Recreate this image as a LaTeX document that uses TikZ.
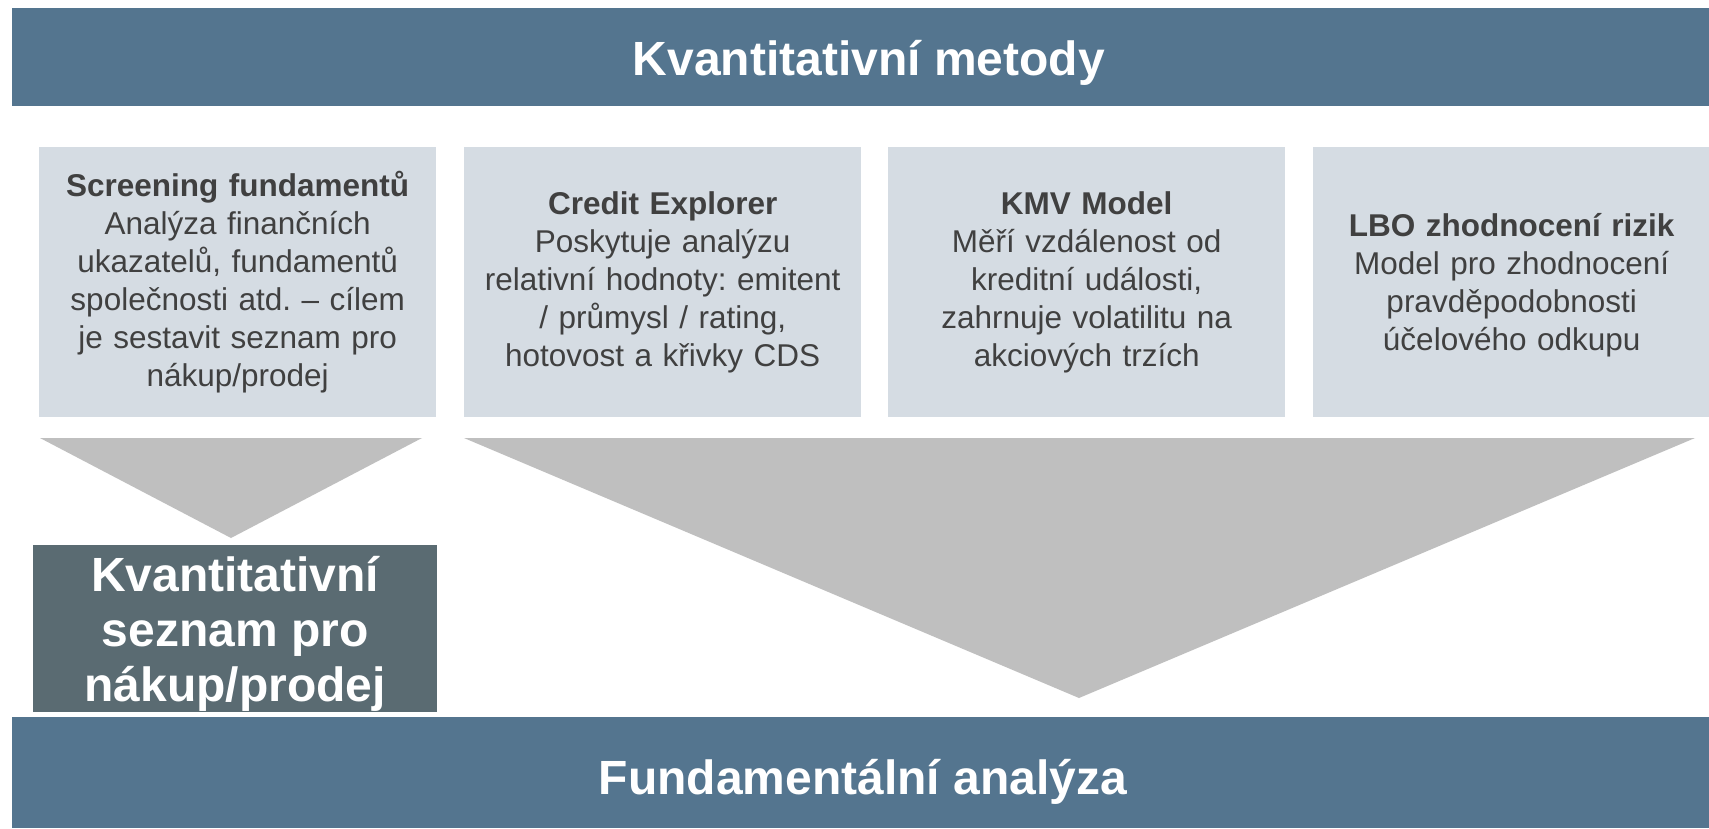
\documentclass[tikz,border=0pt]{standalone}
\usepackage{fontspec}
\setmainfont{Liberation Sans}
\frenchspacing
\definecolor{barblue}{RGB}{84,117,143}
\definecolor{lightbox}{RGB}{213,220,227}
\definecolor{trigray}{RGB}{191,191,191}
\definecolor{darkbox}{RGB}{90,107,114}
\definecolor{txtgray}{RGB}{64,64,64}
\tikzset{
  bar/.style={fill=barblue, draw=none, inner sep=0pt, minimum width=1697pt, anchor=north west},
  bartext/.style={text=white, font=\fontsize{48}{50}\selectfont\bfseries, anchor=base, inner sep=0pt},
  infobox/.style={fill=lightbox, draw=none, inner sep=0pt, minimum width=397pt, minimum height=270pt, anchor=north west},
  infotext/.style={text=txtgray, font=\fontsize{31.5}{38}\selectfont\frenchspacing, align=center, text width=392pt, inner sep=0pt},
  funnel/.style={fill=trigray, draw=none},
  resultbox/.style={fill=darkbox, draw=none, inner sep=0pt, minimum width=404pt, minimum height=167pt, anchor=north west},
  resulttext/.style={text=white, font=\fontsize{48}{55}\selectfont\bfseries, align=center, inner sep=0pt}
}
\begin{document}
\begin{tikzpicture}[x=1pt,y=-1pt]
\useasboundingbox[fill=white] (0,0) rectangle (1709,828);
% top bar
\node[bar, minimum height=98pt] (top) at (12,8) {};
\node[bartext] (toptext) at (869,75) {Kvantitativní metody};
% info boxes
\node[infobox] (b1) at (39,147) {};
\node[infobox] (b2) at (464,147) {};
\node[infobox] (b3) at (888,147) {};
\node[infobox] (b4) at (1313,147) {};
\node[infotext] (t1) at (b1.center) {\textbf{Screening fundamentů}\\Analýza finančních\\ukazatelů, fundamentů\\společnosti atd. – cílem\\je sestavit seznam pro\\nákup/prodej};
\node[infotext] (t2) at (b2.center) {\textbf{Credit Explorer}\\Poskytuje analýzu\\relativní hodnoty: emitent\\/ průmysl / rating,\\hotovost a křivky CDS};
\node[infotext] (t3) at (b3.center) {\textbf{KMV Model}\\Měří vzdálenost od\\kreditní události,\\zahrnuje volatilitu na\\akciových trzích};
\node[infotext] (t4) at ([yshift=-3pt]b4.center) {\textbf{LBO zhodnocení rizik}\\Model pro zhodnocení\\pravděpodobnosti\\účelového odkupu};
% funnels
\coordinate (f1a) at (40,438);
\coordinate (f1b) at (422,438);
\coordinate (f1c) at (231,538);
\fill[funnel] (f1a) -- (f1b) -- (f1c) -- cycle;
\coordinate (f2a) at (464,438);
\coordinate (f2b) at (1695,438);
\coordinate (f2c) at (1079,698);
\fill[funnel] (f2a) -- (f2b) -- (f2c) -- cycle;
% result box
\node[resultbox] (res) at (33,545) {};
\node[resulttext] (restext) at ([yshift=-5pt]res.center) {Kvantitativní\\seznam pro\\nákup/prodej};
% bottom bar
\node[bar, minimum height=111pt] (bottom) at (12,717) {};
\node[bartext] (bottomtext) at (863,794) {Fundamentální analýza};
\end{tikzpicture}
\end{document}
